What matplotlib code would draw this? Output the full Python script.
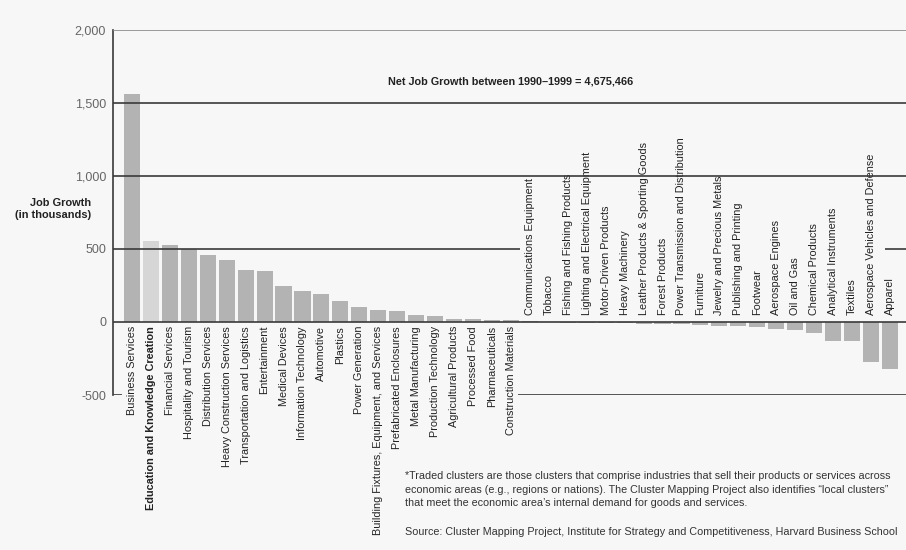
"""Job growth by traded cluster, 1990-1999."""

import matplotlib.pyplot as plt

BG = "#f7f7f7"
BAR = "#b3b3b3"
HIGHLIGHT = "#d6d6d6"
LINE = "#3a3a3a"

plt.rcParams["font.family"] = ["Liberation Sans", "DejaVu Sans"]

gaining = [
	"Business Services", "Education and Knowledge Creation", "Financial Services",
	"Hospitality and Tourism", "Distribution Services", "Heavy Construction Services",
	"Transportation and Logistics", "Entertainment", "Medical Devices",
	"Information Technology", "Automotive", "Plastics", "Power Generation",
	"Building Fixtures, Equipment, and Services", "Prefabricated Enclosures",
	"Metal Manufacturing", "Production Technology", "Agricultural Products",
	"Processed Food", "Pharmaceuticals", "Construction Materials",
]
gaining_values = [1565, 557, 527, 498, 461, 422, 356, 349, 244, 212, 190,
	144, 105, 82, 75, 48, 43, 20, 20, 14, 12]

losing = [
	"Communications Equipment", "Tobacco", "Fishing and Fishing Products",
	"Lighting and Electrical Equipment", "Motor-Driven Products", "Heavy Machinery",
	"Leather Products & Sporting Goods", "Forest Products",
	"Power Transmission and Distribution", "Furniture", "Jewelry and Precious Metals",
	"Publishing and Printing", "Footwear", "Aerospace Engines", "Oil and Gas",
	"Chemical Products", "Analytical Instruments", "Textiles",
	"Aerospace Vehicles and Defense", "Apparel",
]
losing_values = [5, 1, -8, -8, -8, -8, -15, -15, -15, -20, -25, -30, -35,
	-50, -57, -75, -130, -130, -275, -320]

highlight = "Education and Knowledge Creation"
yticks = [-500, 0, 500, 1000, 1500, 2000]
ytick_labels = ["-500", "0", "500", "1,000", "1,500", "2,000"]

footnote = (
	"*Traded clusters are those clusters that comprise industries that sell their products or services across\n"
	"economic areas (e.g., regions or nations). The Cluster Mapping Project also identifies \u201clocal clusters\u201d\n"
	"that meet the economic area\u2019s internal demand for goods and services."
)
source = "Source: Cluster Mapping Project, Institute for Strategy and Competitiveness, Harvard Business School"


def main():
	names = gaining + losing
	values = gaining_values + losing_values
	xs = list(range(len(names)))
	x0, x1 = -1.0, 40.85

	fig = plt.figure(figsize=(9.06, 5.5), dpi=100, facecolor=BG)
	ax = fig.add_axes([113 / 906, 1 - 395 / 550, 1 - 113 / 906, 365 / 550])
	ax.set_facecolor(BG)

	colors = [HIGHLIGHT if n == highlight else BAR for n in names]
	ax.bar(xs, values, width=0.85, color=colors, zorder=2)

	# gridlines; -500 and 500 break where the label blocks sit
	grid = dict(color=LINE, lw=1.2, zorder=4)
	for v in (0, 1000, 1500):
		ax.hlines(v, x0, x1, **grid)
	ax.hlines(2000, x0, x1, color="#8a8a8a", lw=1.2, zorder=4)
	n_gain = len(gaining)
	ax.hlines(-500, x0, -0.53, **grid)
	ax.hlines(-500, n_gain - 0.63, x1, **grid)
	ax.hlines(500, x0, n_gain - 0.53, **grid)
	ax.hlines(500, len(names) - 1.26, x1, **grid)

	for x, n in zip(xs, names):
		weight = "bold" if n == highlight else "normal"
		if n in gaining:
			ax.annotate(n, (x, 0), xytext=(0, -4), textcoords="offset pixels",
				rotation=90, ha="center", va="top", fontsize=7.8, color="#222222",
				fontweight=weight, zorder=3)
		else:
			ax.annotate(n, (x, 0), xytext=(0, 7), textcoords="offset pixels",
				rotation=90, ha="center", va="bottom", fontsize=7.8, color="#222222",
				fontweight=weight, zorder=3)

	ax.set_xlim(x0, x1)
	ax.set_ylim(-500, 2000)
	ax.set_yticks(yticks)
	ax.set_yticklabels(ytick_labels, fontsize=9, color="#666666")
	ax.tick_params(axis="y", length=0, pad=5)
	ax.set_xticks([])
	for side in ("top", "right", "bottom"):
		ax.spines[side].set_visible(False)
	ax.spines["left"].set_color(LINE)
	ax.spines["left"].set_linewidth(1.2)

	ax.text(20, 1645, "Net Job Growth between 1990\u20131999 = 4,675,466",
		ha="center", va="center", fontsize=7.8, fontweight="bold", color="#222222")

	fig.text(91 / 906, 1 - 209 / 550, "Job Growth\n(in thousands)", ha="right",
		va="center", multialignment="right", fontsize=7.9, fontweight="bold",
		color="#222222", linespacing=1.2)

	fig.text(405 / 906, 1 - 471 / 550, footnote, ha="left", va="top",
		fontsize=7.75, color="#333333", linespacing=1.45)
	fig.text(405 / 906, 1 - 527 / 550, source, ha="left", va="top",
		fontsize=7.75, color="#333333")

	fig.savefig("out.png", dpi=100, facecolor=BG)


if __name__ == "__main__":
	main()
